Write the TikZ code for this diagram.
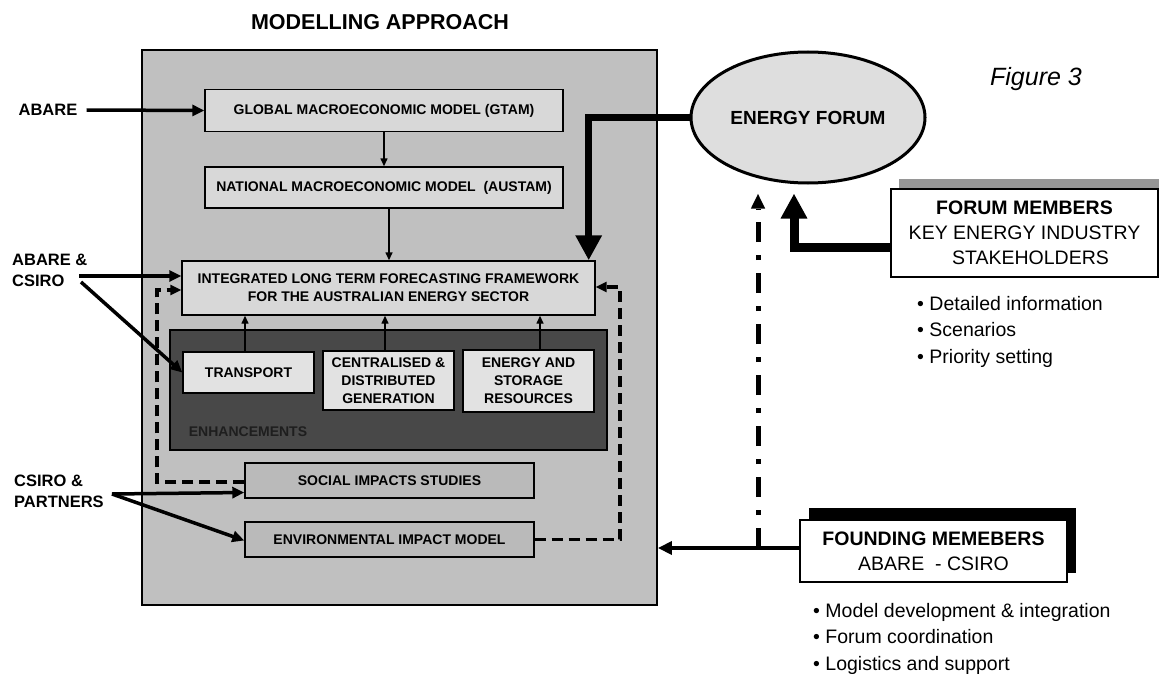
\documentclass[tikz,border=0pt]{standalone}
\usepackage{fontspec}
\setmainfont{Liberation Sans}
\usetikzlibrary{arrows.meta,shapes.geometric,calc}
\definecolor{panelgray}{RGB}{192,192,192}
\definecolor{boxgray}{RGB}{216,216,216}
\definecolor{enhgray}{RGB}{72,72,72}
\definecolor{enhtext}{RGB}{30,30,30}
\definecolor{innergray}{RGB}{226,226,226}
\definecolor{socgray}{RGB}{186,186,186}
\definecolor{ellgray}{RGB}{222,222,222}
\definecolor{shadgray}{RGB}{150,150,150}
\begin{document}
\begin{tikzpicture}[x=1pt,y=-1pt,
  boxfont/.style={font=\bfseries\fontsize{14}{18}\selectfont},
  mbox/.style={draw=black,line width=1.4pt,inner sep=0pt,align=center,boxfont},
  lbl/.style={font=\bfseries\fontsize{16.5}{21}\selectfont,inner sep=0pt,align=left},
  thinarrow/.style={line width=1.4pt,-{Triangle[length=8pt,width=7pt]}},
  larrow/.style={line width=3.5pt,-{Triangle[length=12pt,width=11pt]}},
  dashline/.style={line width=3.2pt,dash pattern=on 11pt off 6pt},
  dashdotline/.style={line width=5pt,dash pattern=on 20pt off 13pt on 5pt off 13pt},
  bigarrow/.style={line width=7.5pt,-{Triangle[length=25pt,width=25pt]}},
  rtext/.style={font=\fontsize{19.5}{25}\selectfont,inner sep=0pt},
  bullets/.style={font=\fontsize{19.5}{26.5}\selectfont,inner sep=0pt,align=left,anchor=west}]
\useasboundingbox (0,0) rectangle (1159,674);
\fill[white] (0,0) rectangle (1159,674);

% title
\node[font=\bfseries\fontsize{21.5}{24}\selectfont,inner sep=0pt] (title) at (380,22) {MODELLING APPROACH};

% main panel
\node[draw=black,line width=1.8pt,fill=panelgray,minimum width=515pt,minimum height=555pt,inner sep=0pt] (panel) at (399.5,327.5) {};

% model boxes
\node[mbox,fill=boxgray,minimum width=358pt,minimum height=42pt] (gtam) at (384,110.5) {GLOBAL MACROECONOMIC MODEL (GTAM)};
\node[mbox,fill=boxgray,minimum width=358pt,minimum height=41pt] (austam) at (384,187.5) {NATIONAL MACROECONOMIC MODEL\ \ (AUSTAM)};
\node[mbox,fill=boxgray,minimum width=413pt,minimum height=54pt] (integ) at (388.5,288) {INTEGRATED LONG TERM FORECASTING FRAMEWORK\\FOR THE AUSTRALIAN ENERGY SECTOR};

% enhancements
\node[draw=black,line width=1.2pt,fill=enhgray,minimum width=437pt,minimum height=120pt,inner sep=0pt] (enh) at (388.5,390) {};
\node[boxfont,text=enhtext,inner sep=0pt] (enhlbl) at (248,432) {ENHANCEMENTS};
\node[mbox,fill=innergray,minimum width=131pt,minimum height=41pt] (transport) at (248.5,372.5) {TRANSPORT};
\node[mbox,fill=innergray,minimum width=131pt,minimum height=59pt] (central) at (388.5,380.5) {CENTRALISED \&\\DISTRIBUTED\\GENERATION};
\node[mbox,fill=innergray,minimum width=131pt,minimum height=62pt] (energy) at (528.5,381) {ENERGY AND\\STORAGE\\RESOURCES};

% impact boxes
\node[mbox,fill=socgray,minimum width=289pt,minimum height=35pt] (social) at (389.5,480.5) {SOCIAL IMPACTS STUDIES};
\node[mbox,fill=socgray,minimum width=289pt,minimum height=35pt] (env) at (389.5,539.5) {ENVIRONMENTAL IMPACT MODEL};

% internal arrows
\draw[thinarrow] (gtam.south) -- (austam.north);
\draw[thinarrow] ([xshift=5pt]austam.south) -- ([xshift=5pt]austam.south |- integ.north);
\draw[thinarrow] ([xshift=-3.5pt]transport.north) -- ([xshift=-3.5pt]transport.north |- integ.south);
\draw[thinarrow] ([xshift=-3.5pt]central.north) -- ([xshift=-3.5pt]central.north |- integ.south);
\draw[thinarrow] ([xshift=11.5pt]energy.north) -- ([xshift=11.5pt]energy.north |- integ.south);

% dashed feedback lines
\coordinate (dl) at (157,290);
\coordinate (dr) at (620,287);
\draw[dashline,-{Triangle[length=11pt,width=10pt]}] ([yshift=-1.5pt]social.west) -| (dl) -- (dl -| integ.west);
\draw[dashline,-{Triangle[length=11pt,width=10pt]}] (env.east) -| (dr) -- (dr -| integ.east);

% left labels
\node[lbl] (abare) at (48,110) {ABARE};
\node[lbl,anchor=west] (abcs) at (12,270) {ABARE \&\\CSIRO};
\node[lbl,anchor=west] (cspa) at (14,491) {CSIRO \&\\PARTNERS};
\draw[larrow] ([xshift=9pt]abare.east) -- (gtam.west);
\coordinate (acA) at (79,276);
\coordinate (acB) at (81,282);
\draw[larrow] (acA) -- (acA -| integ.west);
\draw[larrow] (acB) -- (transport.west);
\coordinate (cpA) at (112,494);
\draw[larrow] (cpA) -- ([yshift=-12pt]social.west);
\draw[larrow] (cpA) -- ([yshift=-1pt]env.west);

% energy forum
\node[draw=black,line width=3pt,fill=ellgray,ellipse,minimum width=234pt,minimum height=131pt,inner sep=0pt,font=\bfseries\fontsize{19}{22}\selectfont] (forum) at (808,117.5) {ENERGY FORUM};
\draw[bigarrow] (forum.west) -| ([xshift=-7pt]integ.north east);

\node[font=\itshape\fontsize{25}{28}\selectfont,inner sep=0pt] (fig) at (1036,79) {Figure 3};

% forum members
\node[fill=shadgray,minimum width=267pt,minimum height=88pt,inner sep=0pt] (fmshadow) at (1032.5,223) {};
\node[draw=black,line width=1.4pt,fill=white,minimum width=267pt,minimum height=88pt,inner sep=0pt,align=center,rtext] (fmbox) at (1024.5,233) {\textbf{FORUM MEMBERS}\\KEY ENERGY INDUSTRY\\\hspace*{12pt}STAKEHOLDERS};
\draw[bigarrow,line width=9pt,shorten >=9pt] ([yshift=-14pt]fmbox.west) -| ([xshift=-14pt]forum.south);
\node[bullets] (fmbul) at (917,331.5) {• Detailed information\\• Scenarios\\• Priority setting};

% founding members
\node[fill=black,minimum width=267pt,minimum height=65pt,inner sep=0pt] (fdshadow) at (942.5,540.5) {};
\node[draw=black,line width=1.8pt,fill=white,minimum width=267pt,minimum height=62pt,inner sep=0pt,align=center,rtext] (fdbox) at (933.5,551) {\textbf{FOUNDING MEMEBERS}\\ABARE\ \ - CSIRO};
\draw[line width=3.5pt,-{Triangle[length=14pt,width=13pt]}] ([yshift=3pt]fdbox.west) -- ([yshift=3pt]fdbox.west -| panel.east);
\coordinate (dd) at (758,548);
\draw[dashdotline] (dd) -- ([yshift=-24pt]dd |- forum.south);
\draw[line width=5pt,-{Triangle[length=15pt,width=13pt]}] ([yshift=-22pt]dd |- forum.south) -- ([yshift=-9pt]dd |- forum.south);
\node[bullets] (fdbul) at (813,638.5) {• Model development \& integration\\• Forum coordination\\• Logistics and support};
\end{tikzpicture}
\end{document}
